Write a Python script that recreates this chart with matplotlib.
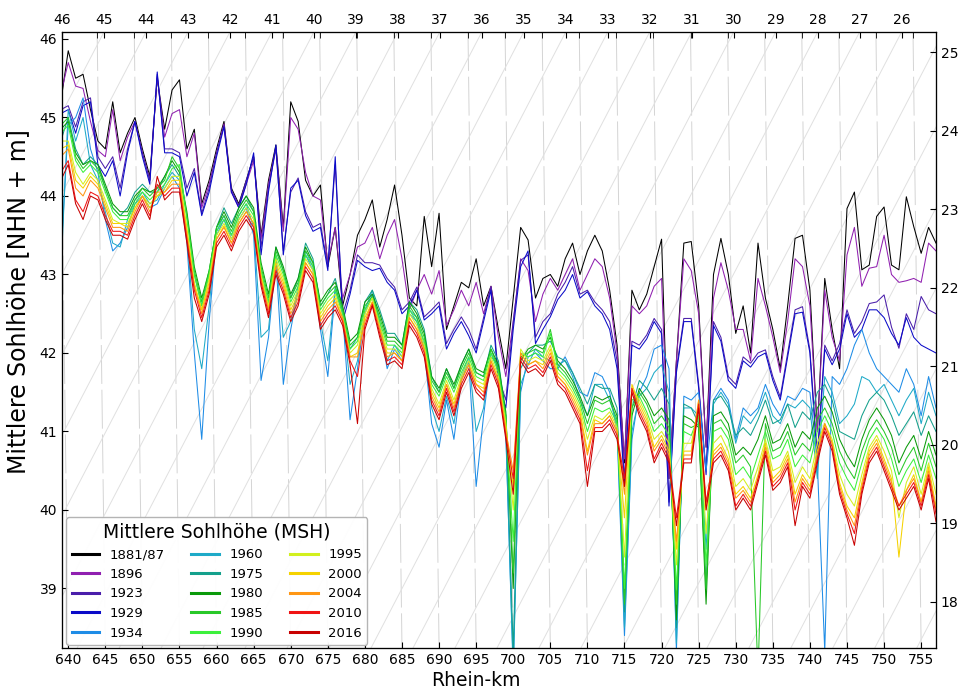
import numpy as np
import matplotlib
matplotlib.use("Agg")
import matplotlib.pyplot as plt

# Rhein-km stations, 1 km apart
KM = np.arange(639, 758)

# mean bed level (NHN + m) per survey year
MSH_1881 = [45.20, 45.85, 45.50, 45.55, 45.10, 44.70, 44.60, 45.20, 44.55, 44.80,
            45.00, 44.60, 44.25, 45.50, 44.85, 45.35, 45.48, 44.60, 44.85, 43.90,
            44.20, 44.60, 44.95, 44.10, 43.90, 44.20, 44.50, 43.50, 44.20, 44.65,
            43.60, 45.20, 44.95, 44.20, 44.00, 44.14, 43.10, 43.60, 42.60, 43.00,
            43.50, 43.70, 43.95, 43.35, 43.70, 44.14, 43.50, 42.70, 42.60, 43.74,
            43.10, 43.78, 42.30, 42.60, 42.90, 42.83, 43.20, 42.60, 42.85, 42.30,
            41.80, 42.70, 43.60, 43.44, 42.70, 42.95, 43.00, 42.85, 43.20, 43.40,
            43.00, 43.30, 43.50, 43.30, 42.80, 42.10, 40.60, 42.80, 42.55, 42.75,
            43.10, 43.45, 40.40, 41.90, 43.40, 43.42, 42.60, 40.80, 43.00, 43.46,
            43.00, 42.25, 42.60, 42.00, 43.40, 42.70, 42.30, 41.80, 42.60, 43.46,
            43.50, 42.80, 41.00, 42.95, 42.30, 41.80, 43.84, 44.05, 43.06, 43.12,
            43.74, 43.86, 43.12, 43.06, 43.99, 43.61, 43.27, 43.60, 43.40]
MSH_1896 = [45.30, 45.70, 45.40, 45.37, 44.95, 44.58, 44.50, 45.10, 44.45, 44.75,
            44.95, 44.55, 44.20, 45.52, 44.75, 45.05, 45.10, 44.50, 44.80, 43.85,
            44.15, 44.55, 44.92, 44.05, 43.85, 44.15, 44.45, 43.45, 44.15, 44.62,
            43.55, 45.00, 44.85, 44.30, 44.00, 43.95, 43.15, 43.60, 42.70, 43.00,
            43.35, 43.40, 43.60, 43.20, 43.50, 43.70, 43.20, 42.55, 42.80, 43.00,
            42.75, 43.05, 42.35, 42.55, 42.80, 42.60, 42.90, 42.50, 42.85, 42.20,
            41.70, 42.40, 43.20, 43.05, 42.40, 42.75, 42.95, 42.80, 43.00, 43.20,
            42.80, 43.00, 43.20, 43.10, 42.70, 42.00, 40.65, 42.60, 42.50, 42.60,
            42.85, 42.95, 40.40, 41.90, 43.20, 43.05, 42.50, 40.80, 42.70, 43.15,
            42.80, 42.30, 42.30, 41.90, 42.95, 42.60, 42.20, 41.75, 42.40, 43.20,
            43.10, 42.60, 41.00, 42.80, 42.20, 41.90, 43.25, 43.60, 42.85, 43.08,
            43.10, 43.50, 43.00, 42.90, 42.92, 42.95, 42.90, 43.40, 43.30]
MSH_1923 = [45.10, 45.15, 44.88, 45.20, 45.25, 44.50, 44.35, 44.50, 44.10, 44.60,
            44.95, 44.55, 44.20, 45.55, 44.60, 44.60, 44.55, 44.10, 44.35, 43.78,
            44.10, 44.55, 44.90, 44.08, 43.88, 44.20, 44.50, 43.35, 44.10, 44.60,
            43.30, 44.05, 44.23, 43.80, 43.60, 43.65, 43.10, 44.40, 42.50, 42.80,
            43.25, 43.15, 43.15, 43.12, 42.95, 42.84, 42.55, 42.65, 42.84, 42.46,
            42.55, 42.65, 42.12, 42.30, 42.46, 42.30, 42.05, 42.45, 42.84, 41.70,
            41.40, 42.40, 43.18, 43.25, 42.20, 42.40, 42.50, 42.75, 42.90, 43.10,
            42.75, 42.80, 42.65, 42.55, 42.40, 41.90, 40.40, 42.15, 42.10, 42.23,
            42.44, 42.30, 40.10, 41.80, 42.44, 42.44, 41.60, 40.50, 42.40, 42.20,
            41.70, 41.60, 41.95, 41.87, 42.00, 42.04, 41.70, 41.44, 42.00, 42.55,
            42.59, 42.04, 40.70, 42.10, 41.90, 42.12, 42.55, 42.25, 42.40, 42.63,
            42.65, 42.74, 42.33, 42.06, 42.50, 42.30, 42.72, 42.55, 42.50]
MSH_1929 = [45.05, 45.10, 44.80, 45.15, 45.20, 44.40, 44.25, 44.45, 44.00, 44.55,
            44.95, 44.50, 44.15, 45.58, 44.55, 44.55, 44.50, 44.00, 44.30, 43.75,
            44.05, 44.50, 44.88, 44.05, 43.85, 44.15, 44.55, 43.25, 44.05, 44.65,
            43.25, 44.10, 44.20, 43.75, 43.55, 43.60, 43.05, 44.50, 42.40, 42.75,
            43.18, 43.10, 43.05, 43.08, 42.90, 42.80, 42.50, 42.60, 42.80, 42.42,
            42.50, 42.60, 42.05, 42.25, 42.40, 42.22, 42.00, 42.40, 42.80, 41.60,
            41.30, 42.30, 43.10, 43.30, 42.12, 42.30, 42.46, 42.68, 42.80, 43.00,
            42.70, 42.78, 42.60, 42.50, 42.30, 41.80, 40.30, 42.10, 42.05, 42.18,
            42.40, 42.25, 40.05, 41.75, 42.40, 42.40, 41.55, 40.45, 42.35, 42.15,
            41.65, 41.55, 41.90, 41.82, 41.95, 42.00, 41.65, 41.40, 41.95, 42.50,
            42.52, 42.00, 40.60, 42.05, 41.85, 42.05, 42.50, 42.20, 42.30, 42.55,
            42.55, 42.45, 42.25, 42.10, 42.45, 42.20, 42.10, 42.05, 42.00]
MSH_1934 = [43.20, 44.90, 45.00, 45.25, 44.60, 44.30, 43.70, 43.30, 43.40, 43.60,
            43.90, 44.00, 43.85, 43.90, 44.10, 44.25, 44.10, 43.40, 42.00, 40.90,
            42.40, 43.50, 43.70, 43.45, 43.70, 43.85, 43.50, 41.65, 42.20, 43.20,
            41.60, 42.30, 42.80, 43.25, 43.05, 42.30, 41.70, 42.80, 42.50, 41.15,
            41.80, 42.50, 42.75, 42.35, 41.80, 42.05, 41.90, 42.50, 42.40, 42.05,
            41.10, 40.80, 41.40, 40.90, 41.65, 41.90, 40.30, 41.20, 41.95, 41.85,
            40.95, 38.00, 41.50, 41.95, 42.00, 41.90, 41.80, 41.80, 41.95, 41.75,
            41.50, 41.45, 41.75, 41.70, 41.50, 41.00, 38.40, 40.90, 41.50, 41.70,
            42.05, 42.10, 41.80, 38.20, 41.45, 41.40, 41.50, 40.50, 41.40, 41.55,
            41.40, 40.90, 41.30, 41.20, 41.30, 41.60, 41.35, 41.20, 41.45, 41.40,
            41.55, 41.50, 40.60, 38.20, 41.70, 41.60, 41.80, 42.10, 42.30, 42.00,
            41.80, 41.70, 41.60, 41.50, 41.80, 41.60, 41.20, 41.70, 41.30]
MSH_1960 = [43.00, 45.10, 44.70, 45.00, 44.40, 44.20, 43.80, 43.40, 43.35, 43.70,
            43.95, 44.05, 43.90, 43.95, 44.15, 44.30, 44.20, 43.50, 42.30, 41.80,
            42.60, 43.55, 43.75, 43.50, 43.75, 43.90, 43.60, 42.20, 42.30, 43.25,
            42.20, 42.40, 42.85, 43.30, 43.10, 42.40, 41.90, 42.85, 42.50, 41.60,
            41.90, 42.55, 42.80, 42.40, 41.90, 42.10, 41.95, 42.55, 42.45, 42.10,
            41.30, 41.00, 41.45, 41.10, 41.70, 41.95, 41.00, 41.30, 42.00, 41.80,
            41.00, 37.90, 41.60, 41.85, 42.05, 41.95, 41.90, 41.85, 41.90, 41.70,
            41.40, 41.20, 41.60, 41.60, 41.40, 41.10, 38.50, 41.00, 41.45, 41.55,
            41.75, 41.85, 41.50, 38.30, 41.30, 41.30, 41.20, 39.50, 41.35, 41.50,
            41.35, 40.85, 41.20, 41.10, 41.25, 41.50, 41.20, 41.10, 41.35, 41.30,
            41.40, 41.30, 40.40, 41.70, 41.50, 41.10, 41.20, 41.35, 41.70, 41.65,
            41.50, 41.60, 41.40, 41.20, 41.40, 41.55, 41.10, 41.50, 41.20]
MSH_1975 = [44.70, 45.00, 44.60, 44.40, 44.50, 44.40, 44.10, 43.85, 43.75, 43.85,
            44.05, 44.15, 44.05, 44.05, 44.25, 44.40, 44.25, 43.75, 43.00, 42.60,
            43.00, 43.60, 43.85, 43.65, 43.85, 44.00, 43.80, 43.05, 42.60, 43.35,
            43.05, 42.70, 42.95, 43.40, 43.20, 42.60, 42.75, 42.95, 42.55, 42.05,
            42.20, 42.65, 42.80, 42.55, 42.25, 42.25, 42.10, 42.65, 42.55, 42.30,
            41.70, 41.50, 41.80, 41.55, 41.85, 42.05, 41.75, 41.70, 42.10, 41.90,
            41.20, 38.20, 41.80, 42.00, 42.10, 42.10, 42.15, 41.95, 41.90, 41.75,
            41.55, 41.35, 41.60, 41.55, 41.55, 41.30, 38.70, 41.30, 41.65, 41.55,
            41.40, 41.55, 41.35, 38.50, 41.35, 41.30, 41.10, 39.00, 41.40, 41.45,
            41.30, 40.95, 41.05, 40.95, 41.15, 41.40, 41.10, 41.15, 41.35, 41.05,
            41.25, 41.15, 41.50, 41.60, 41.40, 41.00, 40.95, 40.90, 41.20, 41.40,
            41.50, 41.40, 41.20, 40.95, 41.10, 41.25, 40.95, 41.20, 41.00]
MSH_1980 = [44.85, 44.95, 44.55, 44.40, 44.45, 44.40, 44.15, 43.90, 43.80, 43.80,
            44.00, 44.10, 44.05, 44.10, 44.25, 44.45, 44.30, 43.80, 43.10, 42.70,
            43.05, 43.60, 43.80, 43.60, 43.85, 44.00, 43.85, 43.15, 42.75, 43.35,
            43.10, 42.75, 42.95, 43.35, 43.15, 42.65, 42.80, 42.90, 42.60, 42.15,
            42.25, 42.65, 42.75, 42.50, 42.20, 42.20, 42.10, 42.65, 42.50, 42.25,
            41.70, 41.55, 41.80, 41.60, 41.85, 42.05, 41.80, 41.75, 42.05, 41.85,
            41.25, 39.00, 41.90, 42.05, 42.10, 42.05, 42.20, 41.90, 41.80, 41.65,
            41.45, 41.20, 41.45, 41.40, 41.45, 41.20, 38.90, 41.20, 41.55, 41.40,
            41.20, 41.30, 41.15, 38.60, 41.20, 41.15, 41.05, 38.80, 41.20, 41.25,
            41.10, 40.70, 40.80, 40.70, 40.90, 41.20, 40.85, 40.90, 41.10, 40.80,
            41.00, 40.90, 41.30, 41.45, 41.25, 40.90, 40.70, 40.55, 40.90, 41.15,
            41.30, 41.15, 40.95, 40.60, 40.80, 40.95, 40.65, 41.00, 40.70]
MSH_1985 = [44.90, 45.00, 44.50, 44.35, 44.45, 44.35, 44.10, 43.85, 43.75, 43.75,
            43.95, 44.10, 44.00, 44.10, 44.20, 44.50, 44.35, 43.75, 43.05, 42.65,
            43.05, 43.60, 43.75, 43.55, 43.80, 43.95, 43.80, 43.10, 42.70, 43.30,
            43.05, 42.70, 42.90, 43.30, 43.15, 42.60, 42.75, 42.85, 42.55, 42.10,
            42.20, 42.60, 42.72, 42.45, 42.15, 42.15, 42.05, 42.60, 42.45, 42.20,
            41.65, 41.50, 41.75, 41.55, 41.80, 42.00, 41.75, 41.70, 42.05, 41.80,
            41.20, 39.20, 41.95, 42.00, 42.05, 42.00, 42.30, 41.85, 41.75, 41.60,
            41.40, 41.10, 41.40, 41.35, 41.40, 41.15, 38.80, 41.30, 41.50, 41.35,
            41.10, 41.20, 41.05, 38.80, 41.10, 41.05, 41.10, 39.00, 41.10, 41.15,
            41.00, 40.60, 40.70, 40.55, 37.90, 41.10, 40.75, 40.80, 41.00, 40.70,
            40.85, 40.75, 41.15, 41.30, 41.10, 40.75, 40.55, 40.40, 40.75, 41.00,
            41.15, 41.00, 40.80, 40.45, 40.65, 40.80, 40.50, 40.85, 40.55]
MSH_1990 = [44.80, 44.90, 44.45, 44.30, 44.40, 44.30, 44.05, 43.80, 43.70, 43.70,
            43.90, 44.05, 43.95, 44.05, 44.15, 44.35, 44.40, 43.70, 43.00, 42.60,
            43.00, 43.55, 43.70, 43.50, 43.75, 43.90, 43.75, 43.05, 42.65, 43.25,
            43.00, 42.65, 42.85, 43.25, 43.10, 42.55, 42.70, 42.80, 42.50, 42.05,
            42.15, 42.55, 42.70, 42.40, 42.10, 42.10, 42.00, 42.55, 42.40, 42.15,
            41.60, 41.45, 41.70, 41.50, 41.75, 41.95, 41.70, 41.65, 42.00, 41.75,
            41.15, 39.60, 42.00, 41.95, 42.00, 41.95, 42.25, 41.80, 41.70, 41.55,
            41.35, 41.00, 41.30, 41.25, 41.30, 41.10, 39.00, 41.40, 41.45, 41.25,
            41.00, 41.10, 40.95, 39.00, 41.00, 40.95, 41.20, 39.30, 41.00, 41.05,
            40.90, 40.45, 40.55, 40.40, 40.70, 41.00, 40.65, 40.70, 40.90, 40.55,
            40.70, 40.60, 41.00, 41.20, 41.00, 40.60, 40.40, 40.25, 40.60, 40.90,
            41.05, 40.90, 40.65, 40.30, 40.50, 40.65, 40.35, 40.70, 40.40]
MSH_1995 = [44.70, 44.70, 44.30, 44.15, 44.30, 44.20, 43.95, 43.70, 43.65, 43.65,
            43.85, 44.00, 43.90, 44.00, 44.10, 44.25, 44.25, 43.60, 42.90, 42.55,
            42.95, 43.50, 43.65, 43.45, 43.70, 43.85, 43.70, 43.00, 42.60, 43.20,
            42.95, 42.60, 42.80, 43.20, 43.05, 42.50, 42.65, 42.75, 42.45, 42.00,
            42.10, 42.50, 42.70, 42.35, 42.05, 42.05, 41.95, 42.50, 42.35, 42.10,
            41.55, 41.35, 41.65, 41.40, 41.70, 41.90, 41.65, 41.60, 41.95, 41.70,
            41.10, 40.00, 42.05, 41.90, 41.95, 41.90, 42.10, 41.75, 41.65, 41.50,
            41.30, 40.90, 41.20, 41.15, 41.25, 41.05, 39.40, 41.55, 41.40, 41.20,
            40.90, 41.00, 40.85, 39.30, 40.85, 40.85, 41.30, 39.70, 40.85, 40.95,
            40.75, 40.30, 40.40, 40.25, 40.55, 40.90, 40.50, 40.55, 40.75, 40.35,
            40.55, 40.40, 40.85, 41.10, 40.90, 40.45, 40.20, 40.05, 40.45, 40.80,
            40.95, 40.75, 40.50, 39.90, 40.35, 40.55, 40.20, 40.60, 40.20]
MSH_2000 = [44.60, 44.65, 44.20, 44.10, 44.25, 44.15, 43.90, 43.65, 43.65, 43.60,
            43.85, 44.00, 43.85, 44.00, 44.05, 44.20, 44.20, 43.55, 42.85, 42.55,
            42.90, 43.45, 43.62, 43.40, 43.65, 43.80, 43.65, 42.95, 42.55, 43.15,
            42.90, 42.55, 42.75, 43.15, 43.00, 42.45, 42.60, 42.70, 42.40, 41.95,
            42.00, 42.45, 42.65, 42.30, 42.00, 42.00, 41.90, 42.45, 42.30, 42.05,
            41.50, 41.30, 41.60, 41.35, 41.65, 41.85, 41.60, 41.55, 41.90, 41.65,
            41.05, 40.30, 42.00, 41.85, 41.90, 41.85, 42.05, 41.70, 41.60, 41.45,
            41.25, 40.75, 41.15, 41.10, 41.20, 41.00, 39.90, 41.60, 41.35, 41.15,
            40.80, 40.95, 40.75, 39.50, 40.75, 40.75, 41.40, 40.00, 40.75, 40.85,
            40.65, 40.20, 40.30, 40.15, 40.45, 40.85, 40.40, 40.50, 40.70, 40.20,
            40.45, 40.30, 40.75, 41.10, 40.85, 40.35, 40.05, 39.90, 40.35, 40.75,
            40.90, 40.65, 40.40, 39.40, 40.25, 40.45, 40.10, 40.55, 40.05]
MSH_2004 = [44.50, 44.60, 44.10, 44.00, 44.20, 44.10, 43.85, 43.60, 43.60, 43.55,
            43.80, 44.00, 43.80, 44.05, 44.05, 44.15, 44.15, 43.50, 42.85, 42.50,
            42.85, 43.45, 43.60, 43.40, 43.65, 43.80, 43.65, 42.95, 42.55, 43.10,
            42.85, 42.50, 42.70, 43.15, 43.00, 42.40, 42.55, 42.65, 42.45, 41.95,
            41.95, 42.40, 42.65, 42.30, 41.95, 42.00, 41.90, 42.45, 42.30, 42.05,
            41.45, 41.25, 41.60, 41.30, 41.65, 41.85, 41.60, 41.50, 41.90, 41.65,
            41.00, 40.50, 42.00, 41.85, 41.90, 41.80, 42.00, 41.70, 41.60, 41.40,
            41.20, 40.70, 41.10, 41.10, 41.20, 41.00, 40.20, 41.55, 41.30, 41.10,
            40.75, 40.90, 40.70, 39.60, 40.70, 40.70, 41.40, 40.05, 40.70, 40.80,
            40.60, 40.15, 40.25, 40.10, 40.40, 40.80, 40.35, 40.45, 40.65, 40.10,
            40.40, 40.25, 40.70, 41.10, 40.85, 40.30, 40.00, 39.80, 40.30, 40.70,
            40.85, 40.60, 40.35, 40.05, 40.25, 40.40, 40.10, 40.50, 40.00]
MSH_2010 = [44.30, 44.45, 43.95, 43.80, 44.05, 44.00, 43.75, 43.55, 43.55, 43.50,
            43.75, 43.95, 43.75, 44.15, 44.00, 44.10, 44.10, 43.45, 42.80, 42.45,
            42.80, 43.40, 43.55, 43.35, 43.60, 43.75, 43.60, 42.90, 42.50, 43.05,
            42.80, 42.45, 42.65, 43.10, 42.95, 42.35, 42.50, 42.60, 42.40, 41.90,
            41.70, 42.35, 42.62, 42.25, 41.90, 41.95, 41.85, 42.40, 42.25, 42.00,
            41.40, 41.20, 41.55, 41.25, 41.60, 41.80, 41.55, 41.45, 41.85, 41.60,
            40.95, 40.40, 41.95, 41.80, 41.85, 41.75, 41.95, 41.65, 41.55, 41.35,
            41.15, 40.50, 41.05, 41.05, 41.15, 40.95, 40.40, 41.55, 41.25, 41.05,
            40.65, 40.85, 40.65, 39.90, 40.65, 40.65, 41.35, 40.10, 40.65, 40.75,
            40.55, 40.05, 40.20, 40.05, 40.40, 40.75, 40.30, 40.40, 40.60, 40.00,
            40.35, 40.20, 40.65, 41.05, 40.80, 40.25, 39.95, 39.70, 40.25, 40.65,
            40.80, 40.55, 40.30, 40.05, 40.20, 40.35, 40.05, 40.45, 39.95]
MSH_2016 = [44.20, 44.40, 43.90, 43.70, 44.00, 43.95, 43.70, 43.50, 43.50, 43.45,
            43.70, 43.90, 43.70, 44.25, 43.95, 44.05, 44.05, 43.40, 42.70, 42.40,
            42.75, 43.35, 43.50, 43.30, 43.55, 43.70, 43.55, 42.85, 42.45, 43.00,
            42.75, 42.40, 42.60, 43.05, 42.90, 42.30, 42.45, 42.55, 42.35, 41.85,
            41.10, 42.30, 42.60, 42.20, 41.85, 41.90, 41.80, 42.35, 42.20, 41.95,
            41.35, 41.15, 41.50, 41.20, 41.55, 41.75, 41.50, 41.40, 41.80, 41.55,
            40.90, 40.20, 41.90, 41.75, 41.80, 41.70, 41.90, 41.60, 41.50, 41.30,
            41.10, 40.30, 41.00, 41.00, 41.10, 40.90, 40.30, 41.50, 41.20, 41.00,
            40.60, 40.80, 40.60, 39.80, 40.60, 40.60, 41.30, 40.00, 40.60, 40.70,
            40.50, 40.00, 40.15, 40.00, 40.35, 40.70, 40.25, 40.35, 40.55, 39.80,
            40.30, 40.15, 40.60, 41.00, 40.75, 40.20, 39.90, 39.55, 40.20, 40.60,
            40.75, 40.50, 40.25, 40.00, 40.15, 40.30, 40.00, 40.40, 39.85]

YEARS = ["1881/87", "1896", "1923", "1929", "1934", "1960", "1975", "1980",
         "1985", "1990", "1995", "2000", "2004", "2010", "2016"]
PROFILES = [MSH_1881, MSH_1896, MSH_1923, MSH_1929, MSH_1934, MSH_1960,
            MSH_1975, MSH_1980, MSH_1985, MSH_1990, MSH_1995, MSH_2000,
            MSH_2004, MSH_2010, MSH_2016]
COLORS = ["#000000", "#9020b0", "#4a1eaa", "#0a0ac8", "#1e8ce6", "#1eaac8",
          "#14a08c", "#0a9a0a", "#28c828", "#3cf03c", "#d2f01e", "#f5d200",
          "#ff9614", "#f01414", "#c80000"]

# old kilometre scale along the top edge
OLD_KM_LABELS = list(range(46, 25, -1))
OLD_KM_START = 639.16
OLD_KM_STEP = 5.66

GRADIENT = 0.1815      # m/km, slope of the grey reference lines
RIGHT_OFFSET = 20.83   # right-hand scale = NHN value - offset

X0, X1 = 639.16, 757.0
Y0, Y1 = 38.242, 46.089

fig = plt.figure(figsize=(9.62, 6.89), dpi=100)
ax = fig.add_axes([62 / 962, 41 / 689, 874 / 962, 616 / 689])
ax.set_xlim(X0, X1)
ax.set_ylim(Y0, Y1)

# km lines every 5 km (slightly slanted)
for k in range(640, 760, 5):
    ax.plot([k - 1.1, k], [Y1, Y0], color="#d4d4d4", lw=0.7,
            dashes=(40, 6), zorder=0)

# gradient lines starting at the old-km ticks
old_pos = OLD_KM_START + OLD_KM_STEP * np.arange(0, 30)
for p in old_pos:
    xs = np.array([p - (Y1 - Y0) / GRADIENT, p])
    ax.plot(xs, Y1 + GRADIENT * (xs - p), color="#e0e0e0", lw=0.7, zorder=0)

for year, vals, col in zip(YEARS, PROFILES, COLORS):
    ax.plot(KM, vals, color=col, lw=0.75, label=year, zorder=2)

ax.set_xticks(range(640, 760, 5))
ax.set_yticks(range(39, 47))
ax.tick_params(direction="in", length=4, labelsize=10, top=False, right=False)
ax.set_xlabel("Rhein-km", fontsize=13.5)
ax.xaxis.set_label_coords(0.474, -0.038)
ax.set_ylabel("Mittlere Sohlhöhe [NHN + m]", fontsize=17)
ax.yaxis.set_label_coords(-0.036, 0.563)

ax_top = ax.twiny()
ax_top.set_xlim(X0, X1)
ax_top.set_xticks(old_pos[:len(OLD_KM_LABELS)])
ax_top.set_xticklabels([str(v) for v in OLD_KM_LABELS])
ax_top.set_xticks([k - 1.1 for k in range(645, 760, 5)], minor=True)
ax_top.tick_params(which="both", direction="in", length=4, labelsize=10)

ax_r = ax.twinx()
ax_r.set_ylim(Y0 - RIGHT_OFFSET, Y1 - RIGHT_OFFSET)
ax_r.set_yticks(range(18, 26))
ax_r.tick_params(direction="in", length=4, labelsize=10)

leg = ax.legend(loc="lower left", bbox_to_anchor=(0.005, 0.005),
                borderaxespad=0, ncol=3, fontsize=9.5,
                title="Mittlere Sohlhöhe (MSH)", title_fontsize=13.5,
                handlelength=2.1, handletextpad=0.8, columnspacing=2.0,
                labelspacing=0.5, framealpha=0.95, edgecolor="#b0b0b0")
for line in leg.get_lines():
    line.set_linewidth(2.2)

fig.savefig("out.png", dpi=100)
